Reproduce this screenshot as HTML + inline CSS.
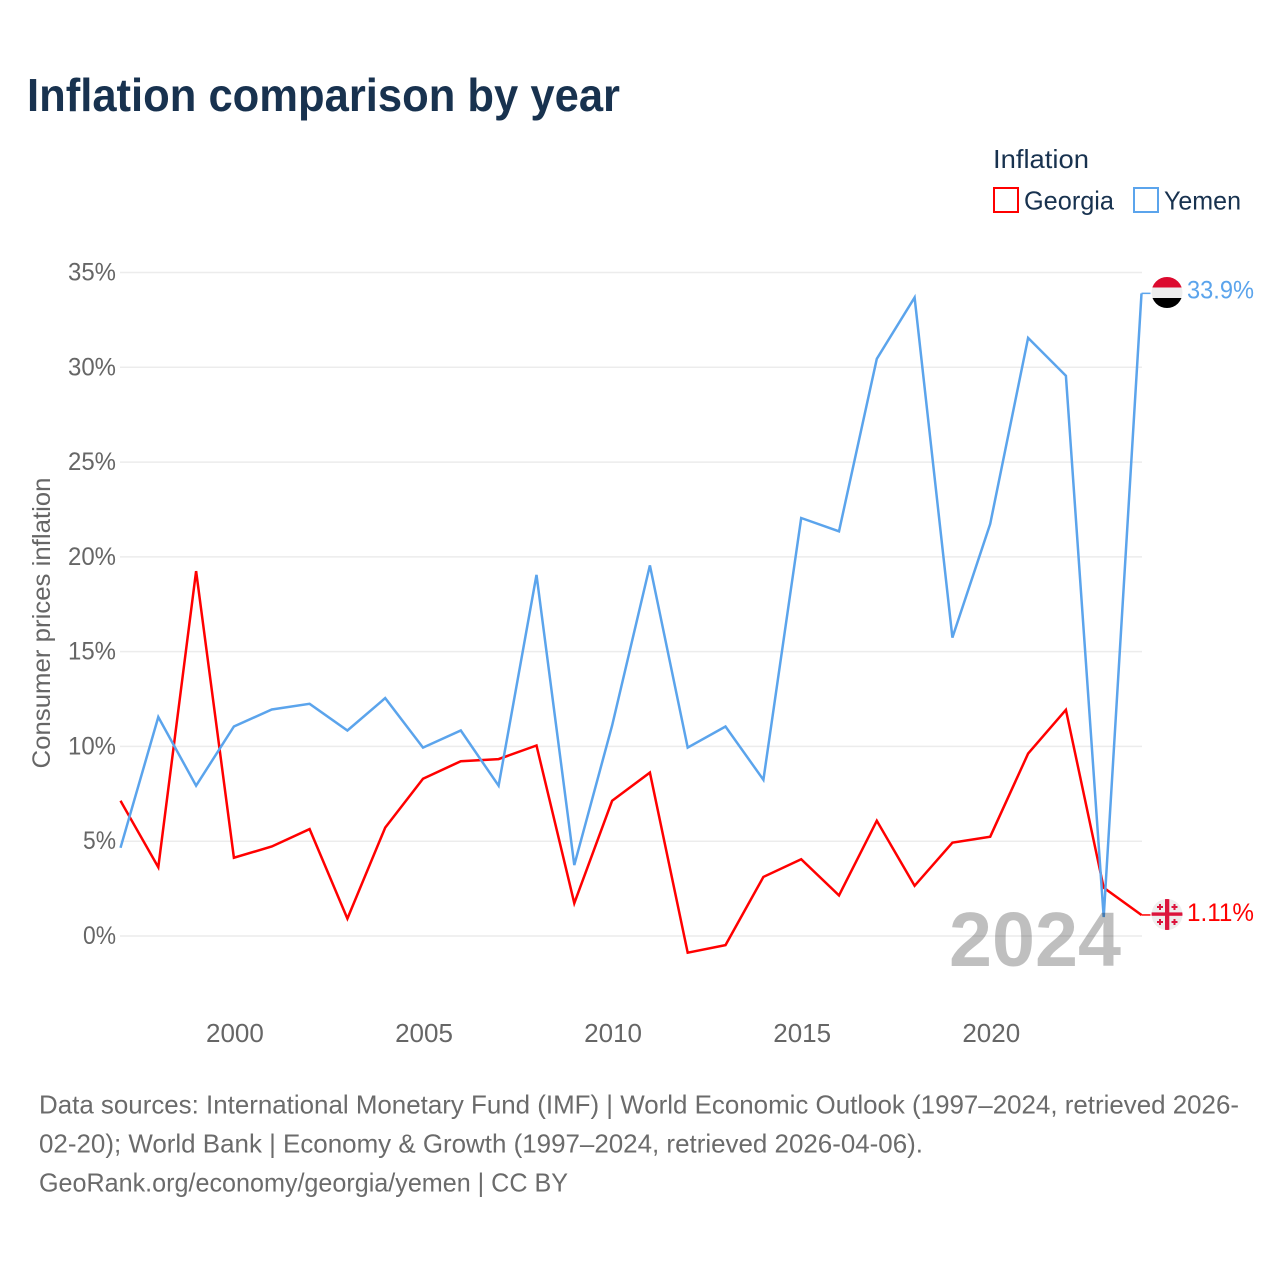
<!DOCTYPE html>
<html><head><meta charset="utf-8"><title>Inflation comparison by year</title>
<style>
html,body{margin:0;padding:0;background:#fff}
svg{display:block}
text{font-family:"Liberation Sans",sans-serif}
</style></head>
<body>
<svg id="chart" xmlns="http://www.w3.org/2000/svg" width="1280" height="1280" viewBox="0 0 1280 1280">
<rect width="1280" height="1280" fill="#fff"/>
<text x="27" y="111" font-size="46" font-weight="700" fill="#18324f" textLength="593" lengthAdjust="spacingAndGlyphs">Inflation comparison by year</text>
<text x="993" y="168" font-size="26" fill="#18324f" textLength="96" lengthAdjust="spacingAndGlyphs">Inflation</text>
<rect x="994" y="188" width="24" height="24" fill="none" stroke="#ff0000" stroke-width="2"/>
<text x="1024" y="209.500" font-size="26" fill="#18324f" textLength="90" lengthAdjust="spacingAndGlyphs">Georgia</text>
<rect x="1134" y="188" width="24" height="24" fill="none" stroke="#5ba4ec" stroke-width="2"/>
<text x="1164" y="209.500" font-size="26" fill="#18324f" textLength="77" lengthAdjust="spacingAndGlyphs">Yemen</text>
<text transform="translate(50,623) rotate(-90)" text-anchor="middle" font-size="25" fill="#666" textLength="291" lengthAdjust="spacingAndGlyphs">Consumer prices inflation</text>
<g id="grid"></g>
<g id="yticks"></g>
<g id="xticks"></g>
<g id="series"></g>
<text x="949" y="966" font-size="77" font-weight="700" fill="#000" fill-opacity="0.25" textLength="172" lengthAdjust="spacingAndGlyphs">2024</text>
<g id="ends"></g>
<defs>
<clipPath id="flag-clip-ye"><circle cx="1167" cy="292.500" r="15.500"/></clipPath>
<clipPath id="flag-clip-ge"><circle cx="1167" cy="914.500" r="15.500"/></clipPath>
</defs>
<g clip-path="url(#flag-clip-ye)">
<rect x="1151" y="277" width="32" height="10.500" fill="#dc0a2e"/>
<rect x="1151" y="287.500" width="32" height="10.500" fill="#eeeeee"/>
<rect x="1151" y="298" width="32" height="11" fill="#000"/>
</g>
<g clip-path="url(#flag-clip-ge)">
<rect x="1151" y="898" width="32" height="33" fill="#eeeeee"/>
<rect x="1165" y="898" width="4.300" height="33" fill="#dc143c"/>
<rect x="1151" y="912.400" width="32" height="3.400" fill="#dc143c"/>
<path d="M1159 904h2v2h2v2h-2v2h-2v-2h-2v-2h2zM1173.500 904h2v2h2v2h-2v2h-2v-2h-2v-2h2zM1159 919h2v2h2v2h-2v2h-2v-2h-2v-2h2zM1173.500 919h2v2h2v2h-2v2h-2v-2h-2v-2h2z" fill="#dc143c"/>
</g>
<text x="39" y="1113.500" font-size="26" fill="#6b6b6b" textLength="1200" lengthAdjust="spacingAndGlyphs">Data sources: International Monetary Fund (IMF) | World Economic Outlook (1997–2024, retrieved 2026-</text>
<text x="39" y="1152.500" font-size="26" fill="#6b6b6b" textLength="884" lengthAdjust="spacingAndGlyphs">02-20); World Bank | Economy &amp; Growth (1997–2024, retrieved 2026-04-06).</text>
<text x="39" y="1191.500" font-size="26" fill="#6b6b6b" textLength="529" lengthAdjust="spacingAndGlyphs">GeoRank.org/economy/georgia/yemen | CC BY</text>
</svg>
<script>
const years = [1997,1998,1999,2000,2001,2002,2003,2004,2005,2006,2007,2008,2009,2010,2011,2012,2013,2014,2015,2016,2017,2018,2019,2020,2021,2022,2023,2024];
const georgiaValues = [7.13,3.63,19.25,4.13,4.72,5.64,0.92,5.72,8.3,9.22,9.33,10.05,1.73,7.13,8.62,-0.88,-0.48,3.12,4.05,2.14,6.08,2.65,4.92,5.24,9.62,11.93,2.55,1.11];
const yemenValues = [4.65,11.55,7.93,11.05,11.95,12.25,10.84,12.55,9.94,10.84,7.93,19.05,3.74,11.1,19.55,9.94,11.05,8.24,22.05,21.35,30.45,33.68,15.74,21.74,31.55,29.55,1.0,33.9];
const yTickValues = [0,5,10,15,20,25,30,35];
const xTickValues = [2000,2005,2010,2015,2020];
const georgiaEndLabel = '1.11%';
const yemenEndLabel = '33.9%';

const NS = 'http://www.w3.org/2000/svg';
function xScale(year){ return 120.5 + (year - 1997) * (1141.5 - 120.5) / 27; }
function yScale(value){ return 936 - value * (936 - 272.5) / 35; }
function makeEl(tag, parentId, attrs, content){
  const el = document.createElementNS(NS, tag);
  for (const k in attrs) el.setAttribute(k, attrs[k]);
  if (content !== undefined) el.textContent = content;
  document.getElementById(parentId).appendChild(el);
  return el;
}
yTickValues.forEach(function(v){
  const line = makeEl('line', 'grid', {x1:120, x2:1142, y1:yScale(v), y2:yScale(v), stroke:'#ececec', 'stroke-width':1.5});
  
  
  const text = v + '%';
  const label = makeEl('text', 'yticks', {x:116, y:yScale(v) + 8, 'text-anchor':'end', 'font-size':25, fill:'#666', textLength: text.length === 3 ? 48 : 33, lengthAdjust:'spacingAndGlyphs'}, text);
  
  
});
xTickValues.forEach(function(y){
  const label = makeEl('text', 'xticks', {x:xScale(y) + 1, y:1042, 'text-anchor':'middle', 'font-size':26, fill:'#666'}, String(y));
  
  
});
function drawSeries(values, color, name, labelText, labelY){
  const pts = values.map(function(v, i){ return xScale(years[i]).toFixed(1) + ',' + yScale(v).toFixed(1); });
  const last = values[values.length - 1];
  const lx = xScale(years[years.length - 1]);
  const ly = yScale(last);
  const path = makeEl('polyline', 'series', {points:pts.join(' '), fill:'none', stroke:color, 'stroke-width':2.5, 'stroke-linejoin':'miter'});
  
  
  const stub = makeEl('line', 'ends', {x1:lx, x2:lx + 9, y1:ly, y2:ly, stroke:color, 'stroke-width':1.5});
  
  
  const label = makeEl('text', 'ends', {x:1187, y:ly + labelY, 'font-size':25, fill:color, textLength:67, lengthAdjust:'spacingAndGlyphs'}, labelText);
  
  
}
drawSeries(georgiaValues, '#ff0000', 'georgia-line', georgiaEndLabel, 6);
drawSeries(yemenValues, '#5ba4ec', 'yemen-line', yemenEndLabel, 5);
</script>
</body></html>
